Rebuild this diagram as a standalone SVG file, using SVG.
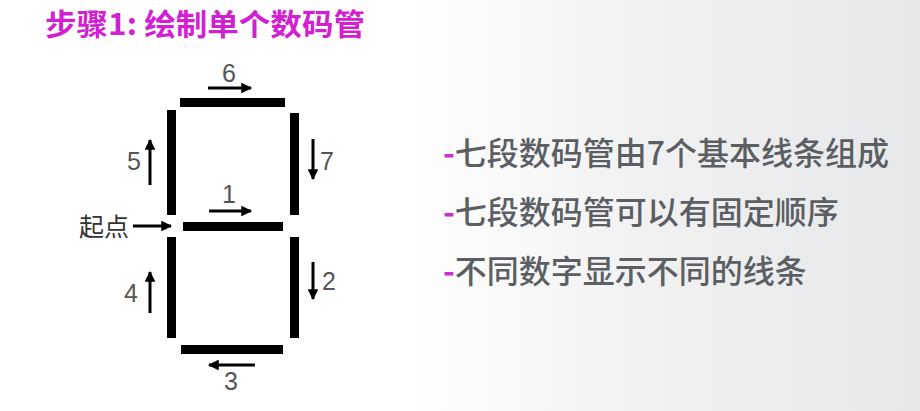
<svg xmlns="http://www.w3.org/2000/svg" width="920" height="411" viewBox="0 0 920 411">
<defs>
<linearGradient id="bg" x1="0" y1="0" x2="1" y2="0">
<stop offset="0" stop-color="#ffffff"/>
<stop offset="0.44" stop-color="#ffffff"/>
<stop offset="0.7" stop-color="#f1f1f2"/>
<stop offset="1" stop-color="#e7e8e9"/>
</linearGradient>
<marker id="ah" viewBox="0 0 10 10" refX="9" refY="5" markerWidth="4.1" markerHeight="3.6" orient="auto" markerUnits="strokeWidth">
<path d="M0,0 L10,5 L0,10 z" fill="#000"/>
</marker>
<style>
.seg{fill:#000}
.arr{stroke:#000;stroke-width:3;fill:none;marker-end:url(#ah)}
.num{font-family:"Liberation Sans",Arial,sans-serif;font-size:25px;fill:#555}
.cjk{font-family:"Noto Sans CJK SC","Noto Sans",sans-serif}
.title{font-size:30px;font-weight:bold;fill:#d21fd2}
.item{font-size:32px;font-weight:500;fill:#5b5f63}
.dash{fill:#cc2fcc;font-weight:bold}
</style>
</defs>
<rect x="0" y="0" width="920" height="411" fill="url(#bg)"/>
<g id="title"><text class="cjk title" x="45" y="35" textLength="320" lengthAdjust="spacingAndGlyphs">步骤1: 绘制单个数码管</text></g>
<g id="segments">
<rect id="seg6" class="seg" x="180" y="98" width="105" height="9"/>
<rect id="seg5" class="seg" x="167" y="110" width="9" height="105"/>
<rect id="seg7" class="seg" x="290" y="113" width="9" height="102"/>
<rect id="seg1" class="seg" x="183" y="222" width="100" height="9"/>
<rect id="seg4" class="seg" x="167" y="237" width="9" height="101"/>
<rect id="seg2" class="seg" x="290" y="237" width="9" height="101"/>
<rect id="seg3" class="seg" x="181" y="345" width="102" height="9"/>
</g>
<g id="connectors">
<line class="arr" x1="208" y1="88" x2="251" y2="88"/>
<line class="arr" x1="150" y1="185" x2="150" y2="140"/>
<line class="arr" x1="313" y1="139" x2="313" y2="179"/>
<line class="arr" x1="209" y1="211" x2="251" y2="211"/>
<line class="arr" x1="133" y1="226" x2="171" y2="226"/>
<line class="arr" x1="150" y1="313" x2="150" y2="272"/>
<line class="arr" x1="313" y1="262" x2="313" y2="299"/>
<line class="arr" x1="255" y1="365" x2="209" y2="365"/>
</g>
<g id="labels">
<text class="num" x="222" y="82">6</text>
<text class="num" x="127" y="170">5</text>
<text class="num" x="320" y="170">7</text>
<text class="num" x="222" y="203">1</text>
<text class="cjk" x="79" y="236" font-size="25" fill="#333">起点</text>
<text class="num" x="124" y="302">4</text>
<text class="num" x="322" y="290">2</text>
<text class="num" x="224" y="390">3</text>
</g>
<g id="bullets">
<g id="item1"><text class="cjk item" x="443" y="165"><tspan class="dash">-</tspan>七段数码管由7个基本线条组成</text></g>
<g id="item2"><text class="cjk item" x="443" y="224"><tspan class="dash">-</tspan>七段数码管可以有固定顺序</text></g>
<g id="item3"><text class="cjk item" x="443" y="283"><tspan class="dash">-</tspan>不同数字显示不同的线条</text></g>
</g>
</svg>
